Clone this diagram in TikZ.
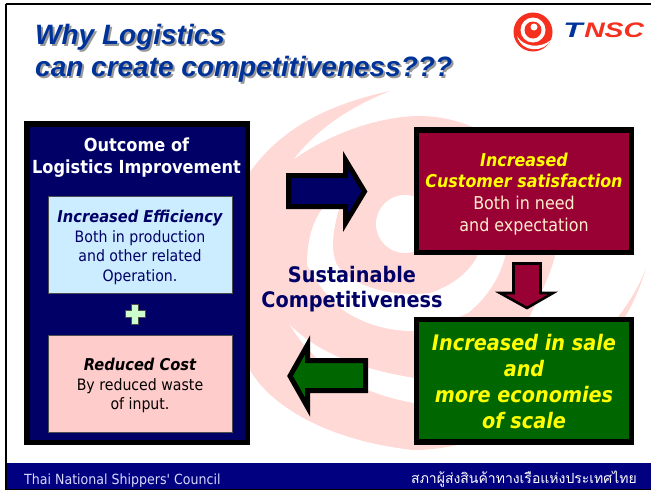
\documentclass[tikz,border=0pt]{standalone}
\usepackage{fontspec}
\setmainfont{DejaVu Sans}
\newfontfamily\arialf{Liberation Sans}
\newfontfamily\thaifont[Script=Thai]{Loma}
\newfontfamily\tahoma[FakeStretch=.9]{DejaVu Sans}
\definecolor{navy}{HTML}{000066}
\definecolor{barblue}{HTML}{000080}
\definecolor{titleblue}{HTML}{003399}
\definecolor{wine}{HTML}{990033}
\definecolor{leaf}{HTML}{006600}
\definecolor{wm}{HTML}{FFD9D6}
\definecolor{lblue}{HTML}{CCECFF}
\definecolor{lpink}{HTML}{FFCCCC}
\definecolor{lgreen}{HTML}{CCFFCC}
\definecolor{logored}{HTML}{F5301E}
\definecolor{softyellow}{HTML}{FFFF00}
\definecolor{cream}{HTML}{FFEECC}
\newcommand{\boldit}[2]{{\bfseries\itshape\fontsize{#1}{10}\selectfont #2}}
\tikzset{
 bigbox/.style={draw=black,line width=5.5pt,inner sep=0pt},
 subbox/.style={draw=black!70,line width=.6pt,inner sep=0pt,minimum width=184pt,minimum height=97pt},
 boxtext/.style={align=center,inner sep=0pt},
 arrowbox/.style={draw=black,line width=5pt,miter limit=10},
 titletext/.style={font=\arialf\bfseries\itshape\fontsize{28}{33}\selectfont,anchor=west,inner sep=0pt},
 logotext/.style={font=\arialf\bfseries\itshape\fontsize{21}{21}\selectfont,inner sep=0pt,anchor=west},
}
\begin{document}
\begin{tikzpicture}[x=1pt,y=-1pt]
\useasboundingbox (0,0) rectangle (651,490);
\fill[white] (0,0) rectangle (651,490);
% watermark swirl
\fill[wm] (390,91) .. controls (325,105) and (280,130) .. (250,172) -- (245,172) -- (245,370) -- (250,370)
  .. controls (270,405) and (325,440) .. (413,450) .. controls (520,450) and (620,360) .. (646,268)
  .. controls (640,285) and (628,305) .. (614,322) -- (527,322) .. controls (540,295) and (553,270) .. (556,250)
  -- (556,200) .. controls (510,140) and (470,117) .. (420,116) .. controls (385,116) and (335,130) .. (293,160)
  .. controls (320,125) and (355,105) .. (390,91) -- cycle;
\fill[white] (345,192) .. controls (322,200) and (307,225) .. (307,265) .. controls (318,285) and (330,300) .. (343,310)
  .. controls (365,325) and (390,331) .. (413,331) -- (440,325) -- (468,313) .. controls (490,295) and (500,275) .. (505,257)
  -- (505,250) -- (477,250) -- (477,257) .. controls (470,270) and (455,285) .. (430,293)
  .. controls (390,298) and (350,285) .. (337,265) .. controls (330,250) and (332,225) .. (345,192) -- cycle;
\fill[white] (405,224) circle (29pt);
\fill[white] (290,325) .. controls (320,355) and (365,370) .. (414,378) -- (414,403) .. controls (370,395) and (320,375) .. (290,325) -- cycle;
% frame
\draw[black,line width=2.5pt] (5.5,4) -- (651,4);
\draw[black,line width=2pt] (5.5,4) -- (5.5,490);
% footer
\fill[barblue] (7,463) rectangle (651,489);
\draw[black,line width=1pt] (5.5,489.5) -- (651,489.5);
\node (footl) [font=\tahoma\fontsize{14}{15}\selectfont,text=white!85!blue,anchor=west,inner sep=0pt] at (24,480.5) {Thai National Shippers' Council};
\node (footr) [font=\thaifont\fontsize{14}{16}\selectfont,text=white,anchor=east,inner sep=0pt] at (637,479) {สภาผู้ส่งสินค้าทางเรือแห่งประเทศไทย};
% title
\node (t1s) [titletext,text=black!40] at (37,39) {Why Logistics};
\node (t2s) [titletext,text=black!40] at (37,71) {can create competitiveness???};
\node (t1) [titletext,text=titleblue] at (35,37) {Why Logistics};
\node (t2) [titletext,text=titleblue] at (35,69) {can create competitiveness???};
% logo
\fill[logored] (533,32) circle (19.5pt);
\fill[white] (533,30) circle (12.5pt);
\fill[logored] (533,30) circle (8.5pt);
\fill[white] (534,27) circle (3.5pt);
\fill[white] (517,36) .. controls (523,47) and (540,49) .. (551,40) .. controls (545,52) and (522,54) .. (517,36) -- cycle;
\node (logoT) [logotext,text=titleblue,xscale=1.5] at (563,30) {T};
\node (logoN) [logotext,text=logored,xscale=1.35] at (584,30) {NSC};
% left panel
\node (left) [bigbox,fill=navy,minimum width=220.5pt,minimum height=318.5pt] at (137,283.2) {};
\node (outcome) [boxtext,font=\tahoma\bfseries\fontsize{18}{22}\selectfont,text=white] at (136.5,157.5) {Outcome of\\Logistics Improvement};
\node (eff) [subbox,fill=lblue] at (140,244.5) {};
\node (efftext) [boxtext,text=navy,font=\tahoma\fontsize{15.7}{19.5}\selectfont,yshift=-3pt] at (eff) {\boldit{16.3}{Increased Efficiency}\\Both in production\\and other related\\Operation.};
\fill[lgreen,draw=black!70,line width=.6pt] (131.5,304.5) -- (138.5,304.5) -- (138.5,310.5) -- (145,310.5) -- (145,317.5) -- (138.5,317.5) -- (138.5,324) -- (131.5,324) -- (131.5,317.5) -- (125,317.5) -- (125,310.5) -- (131.5,310.5) -- cycle;
\node (cost) [subbox,fill=lpink] at (140,383.5) {};
\node (costtext) [boxtext,text=black,font=\tahoma\fontsize{15.7}{19.5}\selectfont,yshift=-2pt] at (cost) {\boldit{16.3}{Reduced Cost}\\By reduced waste\\of input.};
% right boxes
\node (sat) [bigbox,fill=wine,minimum width=215pt,minimum height=122.5pt] at (524,191) {};
\node (sattext) [boxtext,text=cream,font=\tahoma\fontsize{17.7}{21.8}\selectfont,yshift=-3pt] at (sat) {{\bfseries\itshape\color{softyellow}Increased}\\{\bfseries\itshape\color{softyellow}Customer satisfaction}\\Both in need\\and expectation};
\node (sale) [bigbox,fill=leaf,minimum width=215pt,minimum height=122.5pt] at (524,380.5) {};
\node (saletext) [boxtext,text=softyellow,font=\tahoma\bfseries\itshape\fontsize{21.4}{26}\selectfont,yshift=-1pt] at (sale) {Increased in sale\\and\\more economies\\of scale};
% centre text
\node (sust) [boxtext,font=\tahoma\bfseries\fontsize{21.4}{25}\selectfont,text=navy] at (352,289) {Sustainable\\Competitiveness};
% arrows
\draw[arrowbox,fill=navy] (288.5,175.5) -- (345.5,175.5) -- (345.5,160) -- (364.5,191.5) -- (345.5,223) -- (345.5,206.5) -- (288.5,206.5) -- cycle;
\draw[arrowbox,fill=leaf] (365.5,360.5) -- (307.5,360.5) -- (307.5,345) -- (290,376) -- (307.5,407) -- (307.5,390.5) -- (365.5,390.5) -- cycle;
\draw[draw=black,line width=2.6pt,miter limit=10,fill=wine] (513.5,263.5) -- (540.5,263.5) -- (540.5,293) -- (553,293) -- (527,308) -- (500,293) -- (513.5,293) -- cycle;
\end{tikzpicture}
\end{document}
